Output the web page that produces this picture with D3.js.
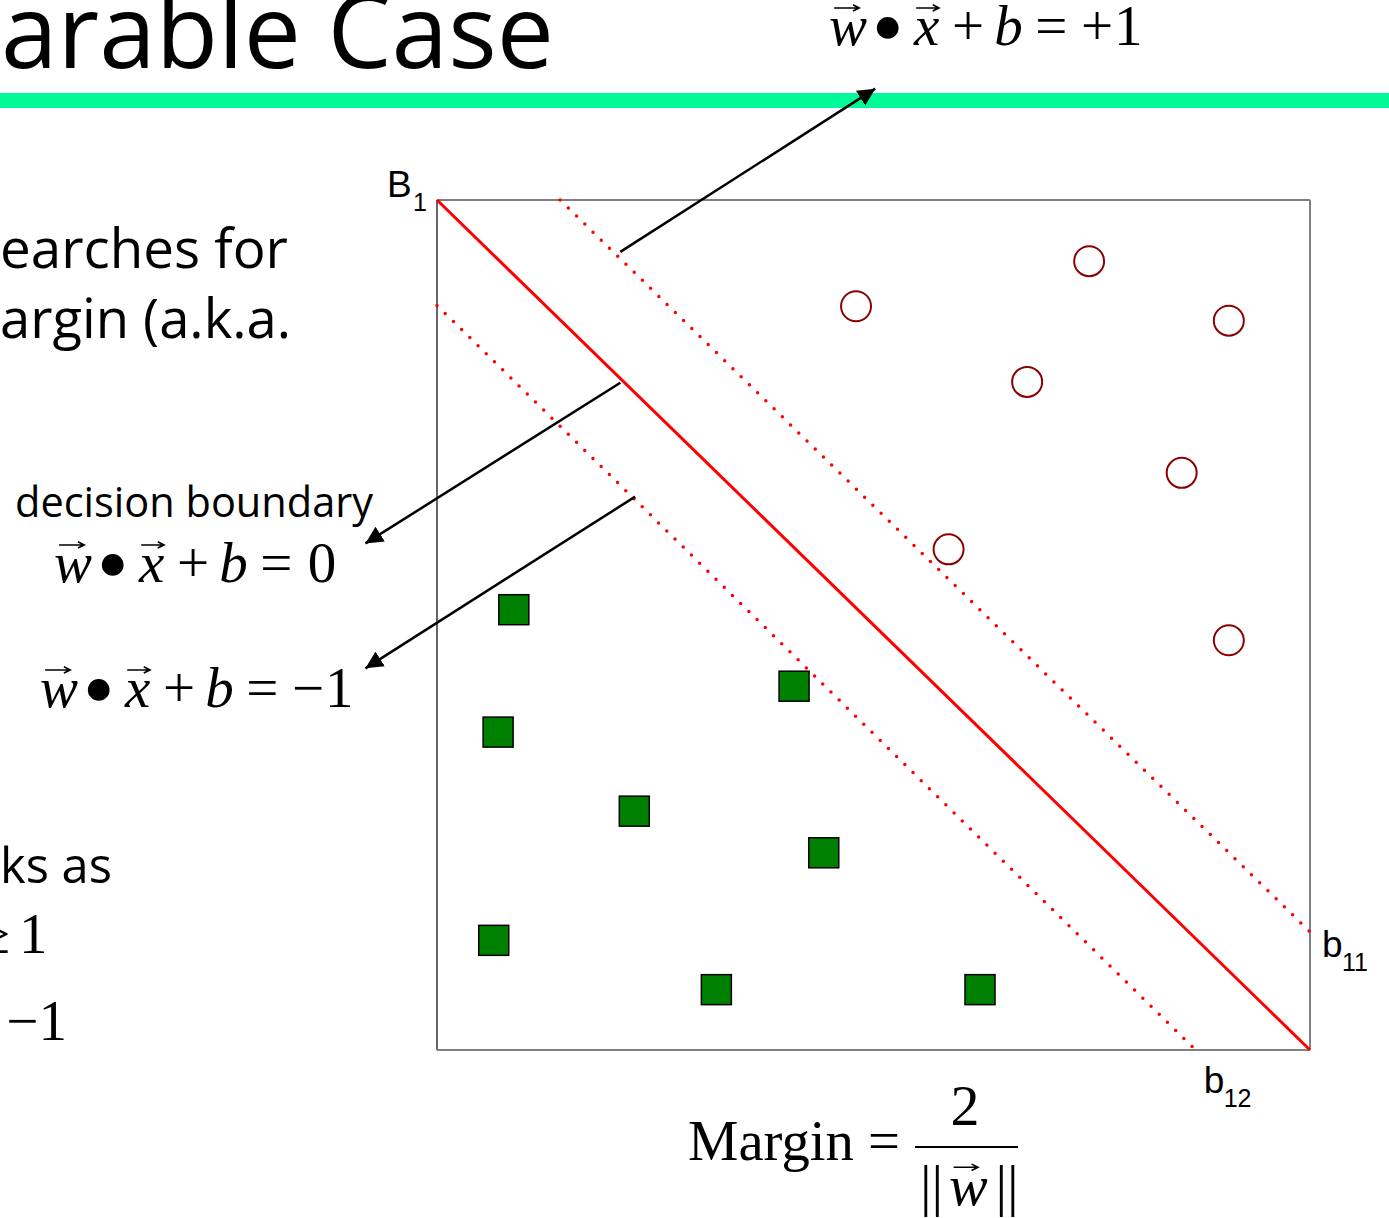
<!DOCTYPE html>
<html>
<head>
<meta charset="utf-8">
<script src="https://cdn.jsdelivr.net/npm/d3@7"></script>
<style>
  body { margin: 0; background: #fff; overflow: hidden; }
  svg { display: block; }
</style>
</head>
<body>
<svg id="chart" width="1389" height="1218"></svg>
<script>
// class +1 points (circles) and class -1 points (squares), plot units 0..10
const circleX = [4.80, 7.47, 9.07, 6.76, 8.53, 5.86, 9.07];
const circleY = [8.75, 9.28, 8.58, 7.86, 6.79, 5.89, 4.82];
const squareX = [0.88, 0.70, 2.26, 4.09, 4.43, 0.65, 3.20, 6.22];
const squareY = [5.18, 3.74, 2.81, 4.28, 2.32, 1.29, 0.71, 0.71];

// hyperplanes as [x1, y1, x2, y2]
const boundaryB1 = [0, 10, 10, 0];
const marginB11 = [1.41, 10, 10, 1.39];
const marginB12 = [0, 8.76, 8.69, 0];

// annotation arrows (from line to equation)
const arrows = [
  [2.10, 9.39, 5.02, 11.31],
  [2.10, 7.85, -0.82, 5.96],
  [2.27, 6.51, -0.82, 4.49]
];

const sans = "'Open Sans', 'Noto Sans', sans-serif";
const serif = "'Liberation Serif', 'DejaVu Serif', serif";
const arial = "'Liberation Sans', Arial, sans-serif";

const svg = d3.select('#chart');

const x = d3.scaleLinear().domain([0, 10]).range([437, 1310]);
const y = d3.scaleLinear().domain([0, 10]).range([1050, 200]);

// fit a text element to a given width
function fitText(sel, target) {
  sel.attr('font-size', 100);
  const w = sel.node().getComputedTextLength();
  sel.attr('font-size', 100 * target / w);
  return sel;
}

// small vector arrow over a symbol
function vecArrow(g, a1, a2, ay, fs) {
  const h = fs * 0.055;
  g.append('path')
    .attr('d', `M${a1},${ay}L${a2},${ay}M${a2 - h * 2},${ay - h}L${a2},${ay}L${a2 - h * 2},${ay + h}`)
    .attr('fill', 'none').attr('stroke', '#000').attr('stroke-width', fs * 0.028);
}

// equation: each part placed at an em offset
function equation(parts, x0, baseline, fs) {
  const g = svg.append('g').attr('transform', `translate(${x0},${baseline})`);
  parts.forEach(p => {
    if (p.dot) {
      g.append('circle').attr('cx', (p.at + 0.19) * fs).attr('cy', -0.3 * fs)
        .attr('r', 0.19 * fs).attr('fill', '#000');
      return;
    }
    g.append('text')
      .attr('x', p.at * fs).attr('y', 0)
      .attr('font-family', serif)
      .attr('font-size', fs)
      .attr('font-style', p.it ? 'italic' : 'normal')
      .text(p.t);
    if (p.vec) vecArrow(g, p.vec[0] * fs, p.vec[1] * fs, -0.65 * fs, fs);
  });
  return g;
}

function lhs() {
  return [
    { t: 'w', it: true, at: 0, vec: [0.09, 0.53] },
    { dot: true, at: 0.84 },
    { t: 'x', it: true, at: 1.49, vec: [1.53, 1.93] },
    { t: '+', at: 2.16 },
    { t: 'b', it: true, at: 2.90 },
    { t: '=', at: 3.62 }
  ];
}

// title and green rule
fitText(svg.append('text').attr('x', 1).attr('y', 68)
  .attr('font-family', sans).attr('fill', '#000').text('arable Case'), 553);

svg.append('rect')
  .attr('x', 0).attr('y', 93).attr('width', 1389).attr('height', 15)
  .attr('fill', '#00fa9a');

// left body text (cut off by the crop)
fitText(svg.append('text').attr('x', 0).attr('y', 268).attr('font-family', sans).text('earches for'), 288);
fitText(svg.append('text').attr('x', 0).attr('y', 338).attr('font-family', sans).text('argin (a.k.a.'), 291);
fitText(svg.append('text').attr('x', 0).attr('y', 883).attr('font-family', sans).text('ks as'), 112);
fitText(svg.append('text').attr('x', 15).attr('y', 517).attr('font-family', sans).text('decision boundary'), 358);

svg.append('text').attr('x', 10).attr('y', 953).attr('text-anchor', 'end')
  .attr('font-family', serif).attr('font-size', 57).text('≥');
svg.append('text').attr('x', 19).attr('y', 953)
  .attr('font-family', serif).attr('font-size', 57).text('1');
svg.append('text').attr('x', 67).attr('y', 1040).attr('text-anchor', 'end')
  .attr('font-family', serif).attr('font-size', 57).text('−1');

// plot frame
const frame = svg.append('g');
frame.append('line').attr('x1', x(0)).attr('y1', y(10)).attr('x2', x(10)).attr('y2', y(10))
  .attr('stroke', '#000').attr('stroke-width', 1.2);
frame.append('line').attr('x1', x(0)).attr('y1', y(10)).attr('x2', x(0)).attr('y2', y(0))
  .attr('stroke', '#000').attr('stroke-width', 1.2);
frame.append('line').attr('x1', x(10)).attr('y1', y(10)).attr('x2', x(10)).attr('y2', y(0))
  .attr('stroke', '#808080').attr('stroke-width', 2);
frame.append('line').attr('x1', x(0)).attr('y1', y(0)).attr('x2', x(10)).attr('y2', y(0))
  .attr('stroke', '#808080').attr('stroke-width', 2);

// hyperplanes
svg.append('line')
  .attr('x1', x(boundaryB1[0])).attr('y1', y(boundaryB1[1]))
  .attr('x2', x(boundaryB1[2])).attr('y2', y(boundaryB1[3]))
  .attr('stroke', '#ff0000').attr('stroke-width', 3);

svg.selectAll('.margin-line')
  .data([marginB11, marginB12])
  .join('line')
  .attr('class', 'margin-line')
  .attr('x1', d => x(d[0])).attr('y1', d => y(d[1]))
  .attr('x2', d => x(d[2])).attr('y2', d => y(d[3]))
  .attr('stroke', '#ff0000').attr('stroke-width', 3.5)
  .attr('stroke-linecap', 'round')
  .attr('stroke-dasharray', '0 11.5');

// points
svg.selectAll('.sq')
  .data(squareX.map((d, i) => [d, squareY[i]]))
  .join('rect')
  .attr('class', 'sq')
  .attr('x', d => x(d[0]) - 15).attr('y', d => y(d[1]) - 15)
  .attr('width', 30).attr('height', 30)
  .attr('fill', '#008000').attr('stroke', '#000').attr('stroke-width', 1.5);

svg.selectAll('.circ')
  .data(circleX.map((d, i) => [d, circleY[i]]))
  .join('circle')
  .attr('class', 'circ')
  .attr('cx', d => x(d[0])).attr('cy', d => y(d[1]))
  .attr('r', 15)
  .attr('fill', 'none').attr('stroke', '#8b0000').attr('stroke-width', 2);

// arrows
svg.append('defs').append('marker')
  .attr('id', 'head')
  .attr('viewBox', '0 0 10 10')
  .attr('refX', 10).attr('refY', 5)
  .attr('markerWidth', 7).attr('markerHeight', 7)
  .attr('markerUnits', 'strokeWidth')
  .attr('orient', 'auto')
  .append('path').attr('d', 'M0,0L10,5L0,10Z').attr('fill', '#000');

svg.selectAll('.arrow')
  .data(arrows)
  .join('line')
  .attr('class', 'arrow')
  .attr('x1', d => x(d[0])).attr('y1', d => y(d[1]))
  .attr('x2', d => x(d[2])).attr('y2', d => y(d[3]))
  .attr('stroke', '#000').attr('stroke-width', 2.5)
  .attr('marker-end', 'url(#head)');

// line labels
function label(main, sub, lx, ly) {
  svg.append('text').attr('x', lx).attr('y', ly)
    .attr('font-family', arial).attr('font-size', 37).text(main);
  svg.append('text').attr('x', lx + (main === 'B' ? 26 : 20)).attr('y', ly + 14)
    .attr('font-family', arial).attr('font-size', 25).text(sub);
}
label('B', '1', x(0) - 50, y(10) - 3);
label('b', '11', x(10) + 12, y(1.39) + 25);
label('b', '12', x(8.69) + 8, y(0) + 43);

// equations
equation(lhs().concat([{ t: '+', at: 4.42 }, { t: '1', at: 5.0 }]), 829, 45, 57);
equation(lhs().concat([{ t: '0', at: 4.45 }]), 54, 582, 57);
equation(lhs().concat([{ t: '−', at: 4.42 }, { t: '1', at: 5.0 }]), 40, 707, 57);

// margin formula
const mg = svg.append('g');
fitText(mg.append('text').attr('x', 688).attr('y', 1160).attr('font-family', serif).text('Margin ='), 212);
mg.append('text').attr('x', 965).attr('y', 1125).attr('text-anchor', 'middle')
  .attr('font-family', serif).attr('font-size', 58).text('2');
mg.append('line').attr('x1', 915).attr('x2', 1018).attr('y1', 1147).attr('y2', 1147)
  .attr('stroke', '#000').attr('stroke-width', 2);
equation([
  { t: '||', at: 0 },
  { t: 'w', it: true, at: 0.5, vec: [0.58, 1.0] },
  { t: '||', at: 1.3 }
], 920, 1205, 58);
</script>
</body>
</html>
